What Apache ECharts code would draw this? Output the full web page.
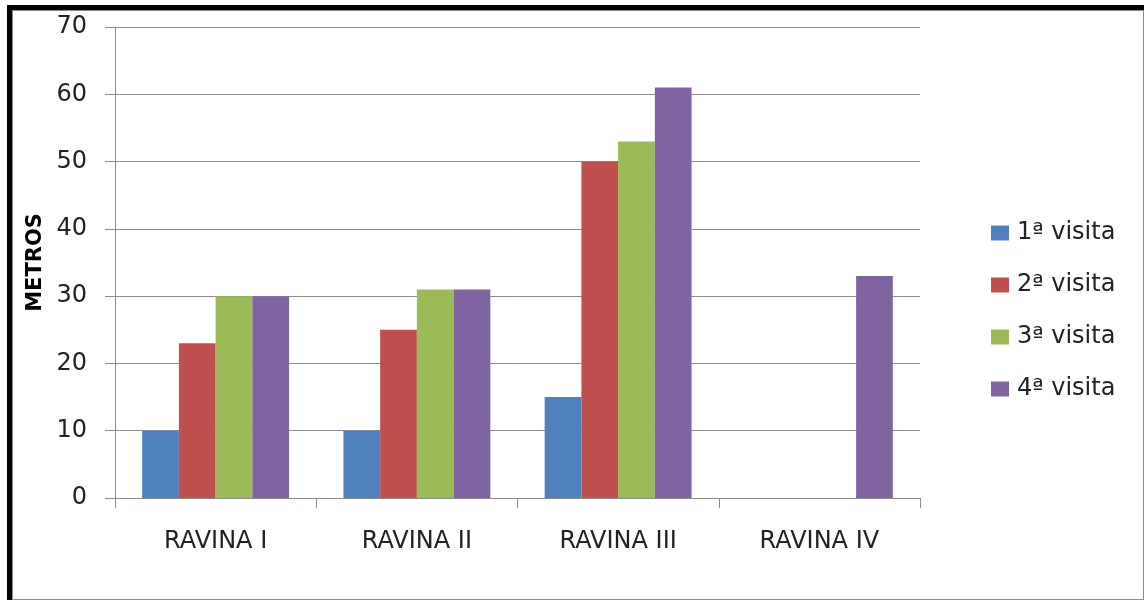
<!DOCTYPE html>
<html>
<head>
<meta charset="utf-8">
<script src="https://cdn.jsdelivr.net/npm/echarts@6/dist/echarts.min.js"></script>
<style>
  html, body { margin: 0; padding: 0; background: #fff; }
  #frame {
    position: absolute; left: 7px; top: 5px; width: 1132px; height: 590px;
    border-top: 5px solid #000; border-left: 5px solid #000;
  }
  #inner {
    position: absolute; left: 0; top: 0; right: 0; bottom: 0;
    border: 1px solid #8c8c8c;
  }
  #main { position: absolute; left: 0; top: 0; width: 1145px; height: 601px; }
</style>
</head>
<body>
<div id="frame"><div id="inner"></div></div>
<div id="main"></div>
<script>
var categories = ['RAVINA I', 'RAVINA II', 'RAVINA III', 'RAVINA IV'];
var seriesNames = ['1ª visita', '2ª visita', '3ª visita', '4ª visita'];
var visita1 = [10, 10, 15, null];
var visita2 = [23, 25, 50, null];
var visita3 = [30, 31, 53, null];
var visita4 = [30, 31, 61, 33];
var colors = ['#4F81BD', '#C0504D', '#9BBB59', '#8064A2'];

var chartDom = document.getElementById('main');
var myChart = echarts.init(chartDom, null, { renderer: 'canvas' });
var option;

var font = 'DejaVu Sans';
var allData = [visita1, visita2, visita3, visita4];

option = {
    backgroundColor: 'transparent',
    animation: false,
    color: colors,
    textStyle: { fontFamily: font },
    grid: {
        left: 115,
        top: 27,
        width: 805,
        height: 471
    },
    legend: {
        orient: 'vertical',
        left: 986,
        top: 216,
        itemWidth: 18,
        itemHeight: 15,
        itemGap: 28,
        icon: 'rect',
        textStyle: {
            fontFamily: font,
            fontSize: 24,
            lineHeight: 24,
            color: '#222',
            padding: [0, 0, 0, 3]
        },
        data: seriesNames
    },
    xAxis: {
        type: 'category',
        data: categories,
        axisLine: { lineStyle: { color: '#8c8c8c', width: 1 } },
        axisTick: { show: true, length: 10, lineStyle: { color: '#8c8c8c' } },
        axisLabel: {
            fontFamily: font,
            fontSize: 24,
            color: '#222',
            margin: 32
        }
    },
    yAxis: {
        type: 'value',
        min: 0,
        max: 70,
        interval: 10,
        name: 'METROS',
        nameLocation: 'middle',
        nameGap: 58,
        nameRotate: 90,
        nameTextStyle: {
            fontFamily: font,
            fontSize: 21,
            fontWeight: 'bold',
            color: '#000'
        },
        axisLine: { show: true, lineStyle: { color: '#8c8c8c', width: 1 } },
        axisTick: { show: true, length: 10, lineStyle: { color: '#8c8c8c' } },
        splitLine: { lineStyle: { color: '#8c8c8c', width: 1 } },
        axisLabel: {
            fontFamily: font,
            fontSize: 24,
            color: '#222',
            margin: 28
        }
    },
    series: seriesNames.map(function (name, i) {
        return {
            name: name,
            type: 'bar',
            data: allData[i],
            barGap: '0%',
            barCategoryGap: '27%',
            itemStyle: { color: colors[i] }
        };
    })
};

option && myChart.setOption(option);
</script>
</body>
</html>
